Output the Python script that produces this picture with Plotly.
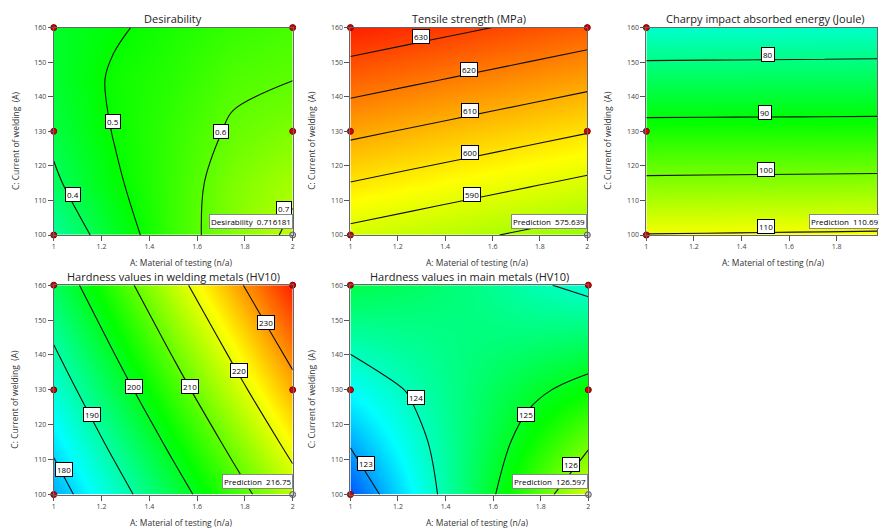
import plotly.graph_objects as go

W, H = 879, 531

# ---------------- data ----------------
X_GRID = [1.0, 1.25, 1.5, 1.75, 2.0]            # A: Material of testing
Y_GRID = [100, 115, 130, 145, 160]              # C: Current of welding (A)

DESIRABILITY = [
    [0.320, 0.451, 0.560, 0.645, 0.716],
    [0.385, 0.487, 0.560, 0.637, 0.685],
    [0.420, 0.503, 0.555, 0.610, 0.640],
    [0.440, 0.510, 0.540, 0.585, 0.599],
    [0.445, 0.490, 0.525, 0.555, 0.575],
]
TENSILE = [
    [587.3, 584.4, 581.5, 578.6, 575.7],
    [599.7, 596.8, 593.9, 591.0, 588.1],
    [612.1, 609.2, 606.3, 603.4, 600.5],
    [624.5, 621.6, 618.7, 615.8, 612.9],
    [636.9, 634.0, 631.1, 628.2, 625.3],
]
CHARPY = [
    [110.2, 110.3, 110.45, 110.55, 110.7],
    [101.3, 101.4, 101.5, 101.6, 101.7],
    [92.4, 92.45, 92.5, 92.55, 92.6],
    [83.3, 83.38, 83.45, 83.52, 83.6],
    [74.2, 74.3, 74.4, 74.5, 74.6],
]
HARD_WELD = [
    [176.7, 186.7, 196.7, 206.7, 216.7],
    [181.35, 191.6, 201.8, 212.0, 222.3],
    [186.0, 196.5, 206.9, 217.4, 227.9],
    [190.65, 201.3, 212.0, 222.7, 233.4],
    [195.3, 206.2, 217.2, 228.1, 239.0],
]
HARD_MAIN = [
    [122.50, 123.52, 124.55, 125.57, 126.59],
    [123.06, 123.78, 124.50, 125.22, 125.90],
    [123.62, 124.04, 124.46, 124.87, 125.21],
    [124.18, 124.30, 124.41, 124.45, 124.53],
    [124.74, 124.60, 124.40, 124.10, 123.85],
]

TITLES = ["Desirability", "Tensile strength (MPa)", "Charpy impact absorbed energy (Joule)",
          "Hardness values in welding metals (HV10)", "Hardness values in main metals (HV10)"]
PRED_TEXT = ["Desirability  0.716181", "Prediction  575.639", "Prediction  110.69",
             "Prediction  216.75", "Prediction  126.597"]

# contour levels (start, end, step) and colour range
LEVELS = [(0.4, 0.7, 0.1), (580, 630, 10), (80, 110, 10), (180, 230, 10), (123, 126, 1)]
CRANGE = [(-0.088, 1.077), (452.8, 642.8), (50.0, 131.0), (163.5, 241.4), (121.97, 128.45)]

# contour label texts and positions
LABELS = [
    (["0.4", "0.5", "0.6", "0.7"], [1.081, 1.249, 1.70, 1.965], [111.8, 132.9, 129.9, 107.6]),
    (["630", "620", "610", "600", "590"], [1.30, 1.50, 1.503, 1.503, 1.513], [157.4, 148.0, 135.9, 123.9, 111.8]),
    (["80", "90", "100", "110"], [1.513, 1.50, 1.503, 1.503], [152.3, 135.5, 118.9, 102.4]),
    (["180", "190", "200", "210", "220", "230"], [1.042, 1.16, 1.336, 1.572, 1.777, 1.889],
     [107.3, 123.0, 131.1, 131.1, 135.5, 149.4]),
    (["123", "124", "125", "126"], [1.067, 1.276, 1.739, 1.927], [108.9, 127.7, 123.0, 108.6]),
]

DESIGN_X = [1, 1, 1, 2, 2]
DESIGN_Y = [100, 130, 160, 160, 130]
PRED_X, PRED_Y = [2], [100]

X_TICKS = [1, 1.2, 1.4, 1.6, 1.8, 2]
X_TICKTEXT = ["1", "1.2", "1.4", "1.6", "1.8", "2"]
Y_TICKS = [100, 110, 120, 130, 140, 150, 160]

# ---------------- layout geometry (pixels) ----------------
PANELS = [  # left, right, top, bottom, xmax shown
    (52, 292, 23, 234, 2.0),
    (350, 588, 23, 234, 2.0),
    (647.3, 879, 23, 234, 1.970),
    (52, 292, 285, 498, 2.0),
    (350, 589, 285, 498, 2.0),
]
FULL_RIGHT = [292, 588, 886, 292, 589]

COLORSCALE = [[0.0, "rgb(0,0,255)"], [0.25, "rgb(0,255,255)"], [0.5, "rgb(0,255,0)"],
              [0.75, "rgb(255,255,0)"], [1.0, "rgb(255,0,0)"]]
Z_ALL = [DESIRABILITY, TENSILE, CHARPY, HARD_WELD, HARD_MAIN]

FONT = "Open Sans"
fig = go.Figure()
annotations = []
layout_axes = {}

for i, (l, r, t, b, xmax) in enumerate(PANELS):
    n = i + 1
    xa = "x" if n == 1 else f"x{n}"
    ya = "y" if n == 1 else f"y{n}"
    xkey = "xaxis" if n == 1 else f"xaxis{n}"
    ykey = "yaxis" if n == 1 else f"yaxis{n}"
    s, e, st = LEVELS[i]
    zmin, zmax = CRANGE[i]
    fig.add_trace(go.Contour(
        x=X_GRID, y=Y_GRID, z=Z_ALL[i], xaxis=xa, yaxis=ya,
        colorscale=COLORSCALE, zmin=zmin, zmax=zmax, zauto=False, showscale=False,
        contours=dict(start=s, end=e + st * 0.01, size=st, coloring="heatmap", showlabels=False),
        line=dict(color="#111", width=1.1, smoothing=1.0), hoverinfo="skip",
    ))
    fig.add_trace(go.Scatter(
        x=DESIGN_X, y=DESIGN_Y, xaxis=xa, yaxis=ya, mode="markers", cliponaxis=False,
        marker=dict(size=6, color="rgb(220,0,0)", line=dict(color="rgb(120,0,0)", width=1)),
        hoverinfo="skip", showlegend=False,
    ))
    fig.add_trace(go.Scatter(
        x=PRED_X, y=PRED_Y, xaxis=xa, yaxis=ya, mode="markers", cliponaxis=False,
        marker=dict(size=6, color="rgb(200,200,200)", line=dict(color="rgb(90,90,90)", width=1)),
        hoverinfo="skip", showlegend=False,
    ))
    dom_x = [l / W, r / W]
    dom_y = [1 - b / H, 1 - t / H]
    layout_axes[xkey] = dict(domain=dom_x, range=[1, xmax], anchor=ya, tickvals=X_TICKS,
                             ticktext=X_TICKTEXT, ticks="outside", ticklen=5, tickcolor="#555",
                             showline=True, mirror=True, linecolor="#666", linewidth=1,
                             showgrid=False, zeroline=False,
                             tickfont=dict(size=7, color="#444", family=FONT))
    layout_axes[ykey] = dict(domain=dom_y, range=[100, 160], anchor=xa, tickvals=Y_TICKS,
                             ticks="outside", ticklen=5, tickcolor="#555",
                             showline=True, mirror=True, linecolor="#666", linewidth=1,
                             showgrid=False, zeroline=False,
                             tickfont=dict(size=7, color="#444", family=FONT))
    full_r = FULL_RIGHT[i]
    cx = (l + full_r) / 2
    # panel title
    annotations.append(dict(text=TITLES[i], x=cx / W, y=1 - (t - 9) / H, xref="paper", yref="paper",
                            showarrow=False, xanchor="center", yanchor="middle",
                            font=dict(size=11, color="#222", family=FONT)))
    # axis titles
    annotations.append(dict(text="A: Material of testing (n/a)", x=(cx + 8) / W, y=1 - (b + 28) / H,
                            xref="paper", yref="paper", showarrow=False, xanchor="center",
                            yanchor="middle", font=dict(size=8.5, color="#333", family=FONT)))
    annotations.append(dict(text="C: Current of welding  (A)", x=(l - 39) / W, y=1 - ((t + b) / 2 + 9) / H,
                            xref="paper", yref="paper", showarrow=False, textangle=-90,
                            xanchor="center", yanchor="middle",
                            font=dict(size=8.5, color="#333", family=FONT)))
    # contour labels
    txts, lx, ly = LABELS[i]
    for tx, px, py in zip(txts, lx, ly):
        annotations.append(dict(text=tx, x=px, y=py, xref=xa, yref=ya, showarrow=False,
                                bgcolor="white", bordercolor="black", borderwidth=1, borderpad=1,
                                font=dict(size=8, color="black", family=FONT)))
    # prediction box
    if i == 2:
        annotations.append(dict(text=PRED_TEXT[i], x=811 / W, y=1 - 228 / H, xref="paper", yref="paper",
                                xanchor="left", yanchor="bottom", showarrow=False,
                                bgcolor="white", bordercolor="#888", borderwidth=1, borderpad=1,
                                font=dict(size=8, color="black", family=FONT)))
    else:
        annotations.append(dict(text=PRED_TEXT[i], x=r / W, y=1 - (b - 6) / H, xref="paper", yref="paper",
                                xanchor="right", yanchor="bottom", showarrow=False,
                                bgcolor="white", bordercolor="#888", borderwidth=1, borderpad=1,
                                font=dict(size=8, color="black", family=FONT)))

fig.update_layout(width=W, height=H, margin=dict(l=0, r=0, t=0, b=0),
                  paper_bgcolor="white", plot_bgcolor="white", showlegend=False,
                  annotations=annotations, **layout_axes)
fig.write_html("out.html", config={"displayModeBar": False})
